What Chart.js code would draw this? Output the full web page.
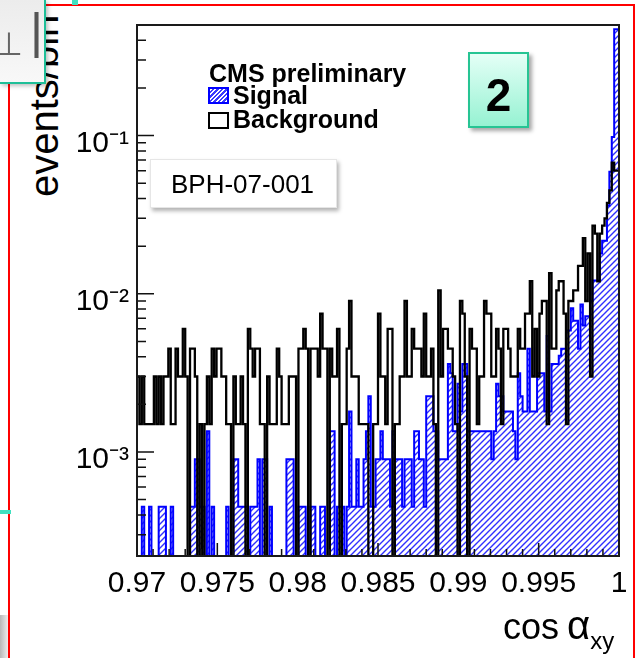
<!DOCTYPE html>
<html><head><meta charset="utf-8">
<script src="https://cdn.jsdelivr.net/npm/chart.js@4.4.1/dist/chart.umd.min.js"></script>
<style>
html,body{margin:0;padding:0;background:#fff;}
body{width:636px;height:658px;overflow:hidden;position:relative;font-family:"Liberation Sans",Arial,sans-serif;}
.abs{position:absolute;}
</style></head><body>
<div class="abs" style="left:8px;top:4px;width:627px;height:720px;border:2px solid #ff0000;box-sizing:border-box;"></div>
<div class="abs" style="left:72px;top:0;width:6px;height:5px;background:#40e0c0"></div>
<div class="abs" style="left:0;top:510px;width:11px;height:4px;background:#40e0c0"></div>
<div class="abs" style="left:0;top:615px;width:8px;height:43px;background:linear-gradient(90deg,#b8b8b8,#eeeeee)"></div>
<div class="abs" style="left:24px;top:197px;transform-origin:0 0;transform:rotate(-90deg);font-size:40px;line-height:1;white-space:nowrap;color:#000">events/bin</div>
<canvas id="c" class="abs" width="636" height="658" style="left:0;top:0"></canvas>
<div class="abs" style="left:0;top:0;width:44px;height:82px;background:linear-gradient(#ececec,#f8f8f8);border-right:2px solid #1fbf98;border-bottom:2px solid #1fbf98;box-shadow:2px 2px 4px rgba(0,0,0,0.25);overflow:hidden;">
  <span class="abs" style="left:-5px;top:28px;font-size:32px;line-height:1;color:#666">⊥</span>
  <span class="abs" style="left:30px;top:6px;font-size:50px;line-height:1;color:#555">|</span>
</div>
<div class="abs" style="left:503px;top:605px;font-size:36px;line-height:1;white-space:nowrap;color:#000">cos<span style="margin-left:8px;font-size:40px">α</span><span style="font-size:24px;position:relative;top:10px">xy</span></div>
<div class="abs" style="left:209px;top:61px;font-weight:bold;font-size:25px;line-height:1;white-space:nowrap;color:#000">CMS preliminary</div>
<div class="abs" style="left:208px;top:87px;width:21px;height:17px;box-sizing:border-box;border:2px solid #0000ff;background:repeating-linear-gradient(135deg,#fff 0 1.6px,#3a3aff 1.6px 3.2px)"></div>
<div class="abs" style="left:233px;top:83px;font-weight:bold;font-size:25px;line-height:1;white-space:nowrap;color:#000">Signal</div>
<div class="abs" style="left:208px;top:112px;width:21px;height:17px;box-sizing:border-box;border:2px solid #000;background:#fff"></div>
<div class="abs" style="left:233px;top:107px;font-weight:bold;font-size:25px;line-height:1;white-space:nowrap;color:#000">Background</div>
<div class="abs" style="left:150px;top:159px;width:187px;height:49px;box-sizing:border-box;background:#fff;border:1px solid #e6e6e6;box-shadow:2px 3px 4px rgba(0,0,0,0.3);">
  <div class="abs" style="left:20px;top:11px;font-size:26px;line-height:1;white-space:nowrap;color:#000">BPH-07-001</div>
</div>
<div class="abs" style="left:468px;top:52px;width:61px;height:76px;box-sizing:border-box;border:2px solid #26c493;background:linear-gradient(#e4fff6,#96f2d2);box-shadow:3px 3px 4px rgba(0,0,0,0.35);">
  <div class="abs" style="left:0;width:57px;top:18px;text-align:center;font-weight:bold;font-size:46px;line-height:1;color:#000">2</div>
</div>
<script>
const xMin = 0.97, xMax = 1.0, nBins = 200;
const xTickValues = [0.97, 0.975, 0.98, 0.985, 0.99, 0.995, 1.0];
const xTickLabels = ['0.97', '0.975', '0.98', '0.985', '0.99', '0.995', '1'];
const yTickValues = [0.001, 0.01, 0.1];
const yTickLabels = ['10⁻³', '10⁻²', '10⁻¹'];
const yMin = 2.2e-4, yMax = 0.5;

const background = [
0.003,0.003,0.0015,0.003,0.0015,0.0015,0.0015,0.0015,0.003,0.0015,
0.003,0.0015,0.003,0.003,0.0045,0.0015,0.0015,0.0045,0.003,0.003,
0.006,0.003,0,0.0045,0.0045,0.003,0,0.0015,0,0.0015,
0.003,0.0015,0.0045,0.003,0.0045,0.0045,0.003,0.003,0.0015,0.0015,
0,0.003,0.0015,0.0015,0.003,0.0015,0,0.006,0.0045,0.003,
0.0045,0.0045,0.0015,0.0015,0,0.003,0.0015,0.0015,0.0015,0.0045,
0.003,0.0015,0.0015,0.0015,0.003,0.003,0.003,0,0.0045,0.0045,
0.006,0.0045,0,0.0045,0.0045,0.0045,0.003,0.0075,0.0045,0.0045,
0,0.0045,0.003,0.003,0.006,0,0.0015,0.0015,0.0045,0.009,
0.003,0.003,0.003,0.0015,0.0015,0.0015,0.0015,0,0,0.0015,
0.0015,0.0075,0.003,0.003,0.0015,0.006,0.006,0,0.0015,0.0015,
0.003,0.003,0.009,0.003,0.003,0.006,0.0045,0.0045,0.0045,0.003,
0.0075,0.003,0.003,0.0045,0.0015,0,0.0105,0.003,0.006,0.006,
0.0045,0.0045,0.003,0.0015,0,0.009,0.0075,0.003,0,0.006,
0.0045,0.0045,0.0015,0.003,0.003,0.009,0.0075,0.0075,0.003,0.003,
0.006,0.0045,0.0015,0.006,0.006,0.0045,0.003,0.003,0.003,0.006,
0.0045,0.0045,0.0075,0.0075,0.012,0.003,0.006,0.003,0.0075,0.009,
0.009,0.0015,0.0135,0.0045,0.0045,0.0105,0.012,0.012,0.0075,0.0015,
0.009,0.009,0.0105,0.0105,0.015,0.015,0.0225,0.009,0.018,0.003,
0.027,0.024,0.012,0.024,0.027,0.03,0.0375,0.045,0.0675,0.06
];

const signal = [
0.00045,0,0,0.00045,0,0,0.00045,0,0,0,
0.00045,0.00045,0.00045,0,0,0.00045,0,0,0,0,
0,0,0,0.00045,0.00045,0.0009,0.0009,0.00045,0.00045,0,
0.00135,0,0.00045,0,0,0,0,0,0.00045,0,
0,0.0009,0.0009,0.00045,0.00045,0.00045,0.00045,0,0.00045,0.00045,
0.00045,0.0009,0,0.0009,0.0009,0,0.00045,0,0,0,
0,0,0,0.0009,0.0009,0.0009,0,0,0.00045,0.00045,
0.00045,0,0,0.00045,0.00045,0,0,0.00045,0.00045,0,
0,0.00135,0.00135,0,0.00045,0.00045,0.00045,0,0.00045,0.0018,
0.00045,0.00045,0.0009,0.00045,0.00045,0.0009,0.00135,0.00225,0.00045,0.00045,
0.0009,0.0009,0.00135,0.0009,0.0009,0.0009,0.00045,0.00135,0.0009,0.0009,
0.0009,0.00045,0.0009,0.0009,0.0009,0.00045,0.00135,0.00135,0.0009,0.0009,
0.00045,0.00225,0.00225,0.00225,0.00135,0.00135,0.0009,0.0009,0.0009,0.0009,
0.0036,0.00315,0.00135,0.00135,0.0027,0.0018,0.0036,0.0036,0.00135,0.00135,
0.00135,0.00135,0.00135,0.00135,0.00135,0.00135,0.00135,0.00135,0.0009,0.00135,
0.0027,0.00225,0.00225,0.0018,0.0018,0.0018,0.0018,0.00135,0.0009,0.00315,
0.00225,0.0018,0.0018,0.0045,0.0018,0.0018,0.0018,0.00315,0.00315,0.00315,
0.0018,0.0054,0.0018,0.0036,0.0036,0.0036,0.00405,0.0045,0.0045,0.00585,
0.00585,0.0081,0.00675,0.00675,0.0045,0.00855,0.0063,0.0072,0.0072,0.009,
0.01215,0.01215,0.01215,0.018,0.0216,0.0216,0.036,0.059,0.098,0.47
];

const FLOOR = 1e-6; // empty bins are drawn down past the bottom of the log axis
const binW = (xMax - xMin) / nBins;
function histPoints(vals) {
  const pts = vals.map((v, i) => ({ x: xMin + i * binW, y: v > 0 ? v : FLOOR }));
  pts.push({ x: xMax, y: pts[pts.length - 1].y });
  return pts;
}

const pc = document.createElement('canvas');
pc.width = 6; pc.height = 6;
const pg = pc.getContext('2d');
pg.fillStyle = '#ffffff'; pg.fillRect(0, 0, 6, 6);
pg.strokeStyle = '#3030ff'; pg.lineWidth = 1.4;
pg.beginPath();
pg.moveTo(-1, 7); pg.lineTo(7, -1);
pg.moveTo(-1, 1); pg.lineTo(1, -1);
pg.moveTo(5, 7); pg.lineTo(7, 5);
pg.stroke();
const ctx = document.getElementById('c').getContext('2d');
const hatch = ctx.createPattern(pc, 'repeat');

const frameTicks = {
  id: 'frameTicks',
  afterDatasetsDraw(chart) {
    const { ctx, chartArea: a, scales: { x, y } } = chart;
    ctx.save();
    ctx.strokeStyle = '#111';
    ctx.lineWidth = 1.5;
    ctx.beginPath();
    for (let k = 0; k <= 30; k++) {
      const v = xMin + k * 0.001;
      const px = x.getPixelForValue(v);
      const len = (k % 5 === 0) ? 13 : 7;
      ctx.moveTo(px, a.bottom); ctx.lineTo(px, a.bottom - len);
    }
    for (let e = -4; e <= 0; e++) {
      for (let m = 1; m <= 9; m++) {
        const v = m * Math.pow(10, e);
        if (v < y.min || v > y.max) continue;
        const py = y.getPixelForValue(v);
        const len = m === 1 ? 17 : 9;
        ctx.moveTo(a.left, py); ctx.lineTo(a.left + len, py);
      }
    }
    ctx.stroke();
    ctx.lineWidth = 2;
    ctx.strokeStyle = '#1a1a1a';
    ctx.strokeRect(a.left, a.top, a.right - a.left, a.bottom - a.top);
    ctx.restore();
  }
};

Chart.defaults.font.family = '"Liberation Sans", Arial, sans-serif';
new Chart(ctx, {
  type: 'line',
  data: {
    datasets: [
      { label: 'Background', data: histPoints(background), borderColor: '#000000', borderWidth: 2.3,
        fill: false, stepped: 'after', pointRadius: 0, order: 0 },
      { label: 'Signal', data: histPoints(signal), borderColor: '#0000ff', borderWidth: 2,
        backgroundColor: hatch, fill: 'start', stepped: 'after', pointRadius: 0, order: 1 }
    ]
  },
  options: {
    responsive: false,
    animation: false,
    events: [],
    layout: { padding: { top: 25, right: 17, left: 0, bottom: 0 } },
    plugins: { legend: { display: false }, tooltip: { enabled: false } },
    scales: {
      x: {
        type: 'linear', min: xMin, max: xMax,
        grid: { display: false }, border: { display: false },
        afterBuildTicks: s => { s.ticks = xTickValues.map(v => ({ value: v })); },
        ticks: { callback: (v, i) => xTickLabels[i], font: { size: 30 }, color: '#000', padding: 2,
                 maxRotation: 0, minRotation: 0, autoSkip: false },
        afterFit: s => { s.height = 102; }
      },
      y: {
        type: 'logarithmic', min: yMin, max: yMax,
        grid: { display: false }, border: { display: false },
        afterBuildTicks: s => { s.ticks = yTickValues.map(v => ({ value: v })); },
        ticks: { callback: (v, i) => yTickLabels[i], font: { size: 30 }, color: '#000', padding: 0,
                 labelOffset: 8, autoSkip: false },
        afterFit: s => { s.width = 137; }
      }
    }
  },
  plugins: [frameTicks]
});
</script>
</body></html>
